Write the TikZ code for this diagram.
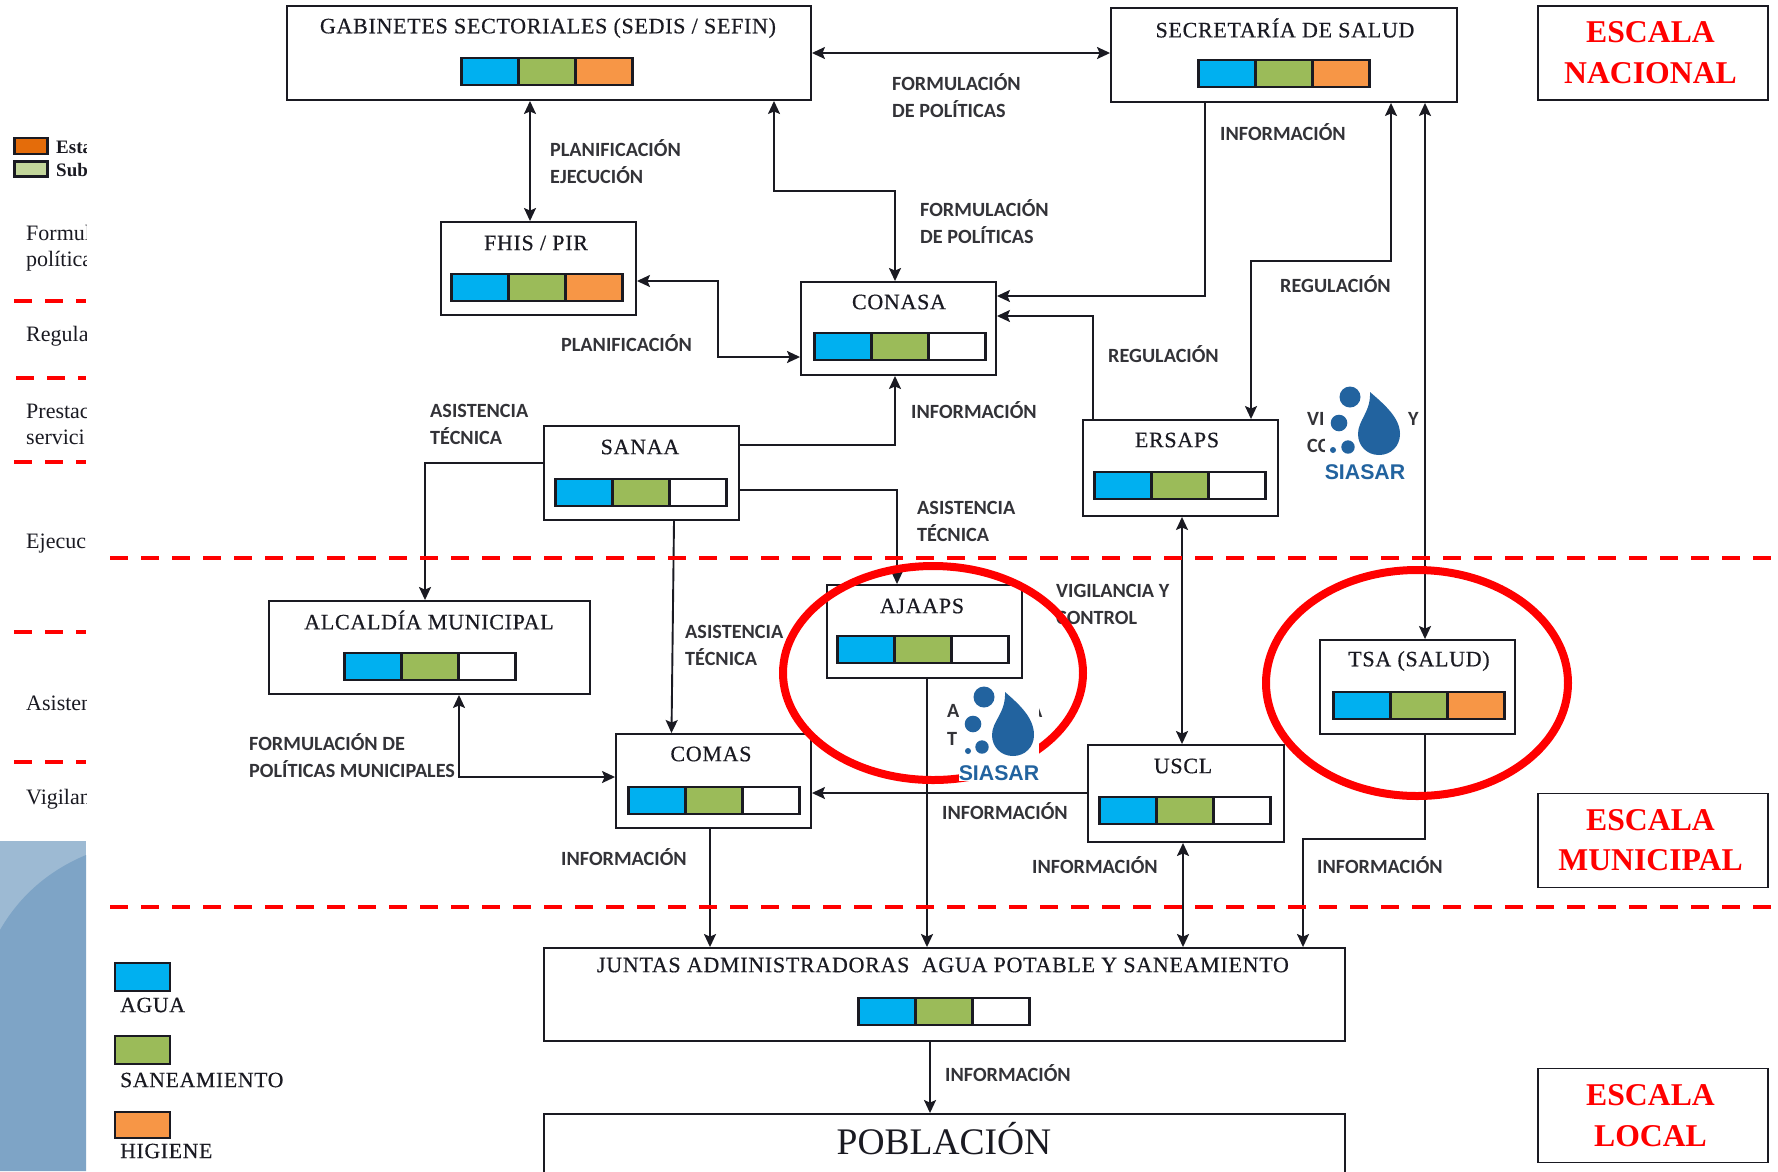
\documentclass[tikz,border=0pt]{standalone}
\usepackage{fontspec}
\setmainfont{Liberation Serif}
\newfontfamily\titulofont[LetterSpace=3.2,FakeBold=0.5]{Liberation Serif}
\newfontfamily\etiquetafont{Carlito}
\newfontfamily\siasarfont{Liberation Sans}
\usetikzlibrary{positioning,arrows.meta}
\definecolor{tinta}{HTML}{1A1A22}
\definecolor{gris}{HTML}{333338}
\definecolor{cagua}{HTML}{00B0F0}
\definecolor{csanea}{HTML}{9BBB59}
\definecolor{chigiene}{HTML}{F79646}
\definecolor{cesta}{HTML}{E46C0A}
\definecolor{csub}{HTML}{C3D69B}
\definecolor{rojo}{HTML}{FF0000}
\definecolor{csiasar}{HTML}{22639F}
\tikzset{
  caja/.style={draw=tinta,line width=1.9pt,fill=white,inner sep=0pt},
  cajan/.style={caja,minimum width=195pt,minimum height=93pt},
  titulo/.style={inner sep=0pt,text=tinta,font=\titulofont\fontsize{22}{26}\selectfont},
  seg/.style={draw=tinta,line width=2.2pt,minimum width=57pt,minimum height=27pt,inner sep=0pt,outer sep=0pt},
  agua/.style={seg,fill=cagua},
  sanea/.style={seg,fill=csanea},
  higiene/.style={seg,fill=chigiene},
  vacio/.style={seg,fill=white},
  etiqueta/.style={anchor=west,align=left,inner sep=0pt,yshift=1pt,text=gris,font=\etiquetafont\fontsize{20.2}{27}\selectfont\bfseries},
  escala/.style={caja,minimum width=230pt,minimum height=94pt,align=center,text=rojo,font=\fontsize{31.7}{40}\selectfont\bfseries},
  lado/.style={anchor=west,inner sep=0pt,text=tinta,font=\fontsize{22}{26}\selectfont},
  leyenda/.style={draw=tinta,line width=2pt,minimum width=55pt,inner sep=0pt},
  flecha/.style={draw=tinta,line width=1.9pt,>={Stealth[length=13pt,width=12pt,inset=2.5pt]}},
  corte/.style={line width=4.5pt,rojo,dash pattern=on 18pt off 13pt},
  circulo/.style={draw=rojo,line width=8pt},
  siasar/.style={fill=csiasar}
}
\begin{document}
\begin{tikzpicture}[x=1pt,y=-1pt]
\useasboundingbox (0,0) rectangle (1778,1171);
\fill[white] (0,0) rectangle (1778,1171);

% panel on the left
\fill[color={rgb,255:red,157;green,186;blue,211}] (0,841) rectangle (86,1171);
\fill[color={rgb,255:red,126;green,164;blue,198}] (86,855) .. controls (50,870) and (20,895) .. (0,930) -- (0,1171) -- (86,1171) -- cycle;
\begin{scope}
\clip (0,0) rectangle (86,841);
    \node[draw=tinta,line width=2.5pt,fill=cesta,minimum width=33pt,minimum height=16pt,inner sep=0pt] (swEsta) at (31,146) {};
    \node[draw=tinta,line width=2.5pt,fill=csub,minimum width=33pt,minimum height=15pt,inner sep=0pt] (swSub) at (31,169) {};
    \node[lado,font=\fontsize{19}{22}\selectfont\bfseries] (lEsta) at (56,147) {Esta};
    \node[lado,font=\fontsize{19}{22}\selectfont\bfseries] (lSub) at (56,170) {Sub};
    \node[lado] (lForm) at (26,233) {Formul};
    \node[lado] (lPoli) at (26,261) {política};
    \node[lado] (lRegu) at (26,336) {Regula};
    \node[lado] (lPres) at (26,411) {Prestac};
    \node[lado] (lServ) at (26,437) {servici};
    \node[lado] (lEjec) at (26,544) {Ejecuc};
    \node[lado] (lAsis) at (26,703) {Asisten};
    \node[lado] (lVigi) at (26,799) {Vigilan};
    \draw[corte] (14,301) -- (86,301);
    \draw[corte] (16,378) -- (86,378);
    \draw[corte] (14,462) -- (86,462);
    \draw[corte] (14,632) -- (86,632);
    \draw[corte] (14,762) -- (86,762);
\end{scope}

% bottom left legend
\node[leyenda,fill=cagua,minimum height=28pt] (swAgua) at (142,977) {};
\node[lado,font=\titulofont\fontsize{21.7}{26}\selectfont] (lAgua) at (120,1005) {AGUA};
\node[leyenda,fill=csanea,minimum height=28pt] (swSanea) at (142,1050) {};
\node[lado,font=\titulofont\fontsize{21.7}{26}\selectfont] (lSanea) at (120,1080) {SANEAMIENTO};
\node[leyenda,fill=chigiene,minimum height=26pt] (swHig) at (142,1125) {};
\node[lado,font=\titulofont\fontsize{21.7}{26}\selectfont] (lHig) at (120,1151) {HIGIENE};

% boxes
\node[caja,minimum width=524pt,minimum height=94pt] (gab) at (549,53) {};
\node[caja,minimum width=346pt,minimum height=94pt] (sec) at (1284,55) {};
\node[cajan] (fhis) at (538.5,268.5) {};
\node[cajan] (conasa) at (898.5,328.5) {};
\node[cajan,minimum height=94pt] (sanaa) at (641.5,473) {};
\node[cajan,minimum height=96pt] (ersaps) at (1180.5,468) {};
\node[caja,minimum width=321pt,minimum height=93pt] (alcaldia) at (429.5,647.5) {};
\node[cajan] (ajaaps) at (924.5,631.5) {};
\node[cajan,minimum height=94pt] (tsa) at (1417.5,687) {};
\node[cajan,minimum height=94pt] (comas) at (713.5,781) {};
\node[cajan,minimum width=196pt,minimum height=97pt] (uscl) at (1186,793.5) {};
\node[caja,minimum width=801pt,minimum height=93pt] (juntas) at (944.5,994.5) {};
\node[caja,minimum width=801pt,minimum height=66pt] (poblacion) at (944.5,1147) {};
\node[inner sep=0pt,text=tinta,font=\fontsize{37.5}{40}\selectfont] (pobT) at (944,1139) {POBLACIÓN};

\node[escala] (nacional) at (1653,53) {\raisebox{2pt}{\hspace*{-5pt}ESCALA}\\\raisebox{1pt}{\hspace*{-5pt}NACIONAL}};
\node[escala] (municipal) at (1653,840.5) {\hspace*{-5pt}ESCALA\\\hspace*{-5pt}MUNICIPAL};
\node[escala] (local) at (1653,1115.5) {\raisebox{2pt}{\hspace*{-5pt}ESCALA}\\\raisebox{1pt}{\hspace*{-5pt}LOCAL}};

% titles
\node[titulo] (gabT) at (548,28) {GABINETES SECTORIALES (SEDIS / SEFIN)};
\node[titulo] (secT) at (1285,28) {SECRETARÍA DE SALUD};
\node[titulo] (fhisT) at (536,243) {FHIS / PIR};
\node[titulo] (conasaT) at (899,302) {CONASA};
\node[titulo] (sanaaT) at (640,447) {SANAA};
\node[titulo] (ersapsT) at (1177,440) {ERSAPS};
\node[titulo] (alcaldiaT) at (429,620) {ALCALDÍA MUNICIPAL};
\node[titulo] (ajaapsT) at (922,606) {AJAAPS};
\node[titulo] (tsaT) at (1419,661) {TSA (SALUD)};
\node[titulo] (comasT) at (711,754) {COMAS};
\node[titulo] (usclT) at (1183,766) {USCL};
\node[titulo] (juntasT) at (943,965) {JUNTAS ADMINISTRADORAS\ \ AGUA POTABLE Y SANEAMIENTO};

% colour bars
\node[agua] (gabA) at (490,71.5) {};
\node[sanea,right=0pt of gabA] (gabS) {};
\node[higiene,right=0pt of gabS] (gabH) {};

\node[agua] (secA) at (1227,73.5) {};
\node[sanea,right=0pt of secA] (secS) {};
\node[higiene,right=0pt of secS] (secH) {};

\node[agua] (fhisA) at (480,287.5) {};
\node[sanea,right=0pt of fhisA] (fhisS) {};
\node[higiene,right=0pt of fhisS] (fhisH) {};

\node[agua] (conasaA) at (843,346.5) {};
\node[sanea,right=0pt of conasaA] (conasaS) {};
\node[vacio,right=0pt of conasaS] (conasaV) {};

\node[agua] (sanaaA) at (584,492.5) {};
\node[sanea,right=0pt of sanaaA] (sanaaS) {};
\node[vacio,right=0pt of sanaaS] (sanaaV) {};

\node[agua] (ersapsA) at (1123,485.5) {};
\node[sanea,right=0pt of ersapsA] (ersapsS) {};
\node[vacio,right=0pt of ersapsS] (ersapsV) {};

\node[agua] (alcaldiaA) at (373,666.5) {};
\node[sanea,right=0pt of alcaldiaA] (alcaldiaS) {};
\node[vacio,right=0pt of alcaldiaS] (alcaldiaV) {};

\node[agua] (ajaapsA) at (866,649.5) {};
\node[sanea,right=0pt of ajaapsA] (ajaapsS) {};
\node[vacio,right=0pt of ajaapsS] (ajaapsV) {};

\node[agua] (tsaA) at (1362,705.5) {};
\node[sanea,right=0pt of tsaA] (tsaS) {};
\node[higiene,right=0pt of tsaS] (tsaH) {};

\node[agua] (comasA) at (657,800.5) {};
\node[sanea,right=0pt of comasA] (comasS) {};
\node[vacio,right=0pt of comasS] (comasV) {};

\node[agua] (usclA) at (1128,810.5) {};
\node[sanea,right=0pt of usclA] (usclS) {};
\node[vacio,right=0pt of usclS] (usclV) {};

\node[agua] (juntasA) at (887,1011.5) {};
\node[sanea,right=0pt of juntasA] (juntasS) {};
\node[vacio,right=0pt of juntasS] (juntasV) {};

% connectors
\draw[flecha,<->] (gab.east |- 0,53) -- (sec.west |- 0,53);
\draw[flecha,<->] (530,0 |- gab.south) -- (530,0 |- fhis.north);
\draw[flecha,<->] (774,0 |- gab.south) -- (774,191) -- (895,191) -- (895,0 |- conasa.north);
\draw[flecha,<->] (fhis.east |- 0,281) -- (718,281) -- (718,357) -- (conasa.west |- 0,357);
\draw[flecha,->] (1205,0 |- sec.south) -- (1205,296) -- (conasa.east |- 0,296);
\draw[flecha,->] (1093,0 |- ersaps.north) -- (1093,316) -- (conasa.east |- 0,316);
\draw[flecha,<->] (1391,0 |- sec.south) -- (1391,261) -- (1251,261) -- (1251,0 |- ersaps.north);
\draw[flecha,<->] (1425,0 |- sec.south) -- (1425,0 |- tsa.north);
\draw[flecha,->] (sanaa.east |- 0,445) -- (895,445) -- (895,0 |- conasa.south);
\draw[flecha,->] (sanaa.east |- 0,490) -- (897,490) -- (897,0 |- ajaaps.north);
\draw[flecha,->] (sanaa.west |- 0,463) -- (425,463) -- (425,0 |- alcaldia.north);
\draw[flecha,->] (674,0 |- sanaa.south) -- (671.5,0 |- comas.north);
\draw[flecha,<->] (459,0 |- alcaldia.south) -- (459,777) -- (comas.west |- 0,777);
\draw[flecha,<->] (1182,0 |- ersaps.south) -- (1182,0 |- uscl.north);
\draw[flecha,->] (uscl.west |- 0,793) -- (comas.east |- 0,793);
\draw[flecha,->] (927,0 |- ajaaps.south) -- (927,0 |- juntas.north);
\draw[flecha,->] (710,0 |- comas.south) -- (710,0 |- juntas.north);
\draw[flecha,<->] (1183,0 |- uscl.south) -- (1183,0 |- juntas.north);
\draw[flecha,->] (1425,0 |- tsa.south) -- (1425,839) -- (1303,839) -- (1303,0 |- juntas.north);
\draw[flecha,->] (930,0 |- juntas.south) -- (930,0 |- poblacion.north);

% labels
\node[etiqueta] (tForm1) at (892,97) {FORMULACIÓN\\DE POLÍTICAS};
\node[etiqueta] (tInfo1) at (1220,133) {INFORMACIÓN};
\node[etiqueta] (tPlan1) at (550,163) {PLANIFICACIÓN\\EJECUCIÓN};
\node[etiqueta] (tForm2) at (920,223) {FORMULACIÓN\\DE POLÍTICAS};
\node[etiqueta] (tRegu1) at (1280,285) {REGULACIÓN};
\node[etiqueta] (tPlan2) at (561,344) {PLANIFICACIÓN};
\node[etiqueta] (tRegu2) at (1108,355) {REGULACIÓN};
\node[etiqueta] (tAsis1) at (430,425) {ASISTENCIA\\TÉCNICA};
\node[etiqueta] (tInfo2) at (911,411) {INFORMACIÓN};
\node[etiqueta] (tAsis2) at (917,522) {ASISTENCIA\\TÉCNICA};
\node[etiqueta] (tVigi1) at (1056,605) {VIGILANCIA Y\\CONTROL};
\node[etiqueta] (tAsis3) at (685,646) {ASISTENCIA\\TÉCNICA};
\node[etiqueta] (tForm3) at (249,757) {FORMULACIÓN DE\\POLÍTICAS MUNICIPALES};
\node[etiqueta] (tInfo3) at (942,812) {INFORMACIÓN};
\node[etiqueta] (tInfo4) at (1032,866) {INFORMACIÓN};
\node[etiqueta] (tInfo5) at (1317,866) {INFORMACIÓN};
\node[etiqueta] (tInfo6) at (561,858) {INFORMACIÓN};
\node[etiqueta] (tInfo7) at (945,1074) {INFORMACIÓN};
\node[etiqueta] (tVi) at (1307,420) {VI};
\node[etiqueta] (tY) at (1408,420) {Y};
\node[etiqueta] (tCo) at (1307,447) {CC};
\node[etiqueta] (tA) at (947,712) {A};
\node[etiqueta] (tT) at (947,740) {T};
\node[etiqueta] (tAb) at (1030,712) {A};

% dashed scale lines
\draw[corte] (110,558) -- (1778,558);
\draw[corte] (110,907) -- (1778,907);

% red circles
\draw[circulo] (933,673) ellipse (150pt and 107pt);
\draw[circulo] (1417,683) ellipse (151pt and 113pt);

% logo over the vigilancia label
\fill[white] (1325,385) rectangle (1405,482);
\fill[siasar] (1350,397) circle (10.5pt);
\fill[siasar] (1339,423) circle (8.3pt);
\fill[siasar] (1348,447) circle (6.7pt);
\fill[siasar] (1333,450) circle (3pt);
\fill[siasar] (1370,392) .. controls (1385,405) and (1400,418) .. (1400,434) .. controls (1400,446) and (1391,455) .. (1379,455) .. controls (1367,455) and (1358,446) .. (1358,434) .. controls (1358,420) and (1371,412) .. (1370,392) -- cycle;
\node[inner sep=0pt,text=csiasar,font=\siasarfont\fontsize{21.3}{24}\selectfont\bfseries] (siasarA) at (1365,472) {SIASAR};

% logo over the asistencia label
\fill[white] (959,687) rectangle (1039,781);
\fill[siasar] (984,697) circle (10.5pt);
\fill[siasar] (973,724) circle (8.3pt);
\fill[siasar] (982,747) circle (6.7pt);
\fill[siasar] (968,751) circle (3pt);
\fill[siasar] (1005,692) .. controls (1020,705) and (1034,718) .. (1034,735) .. controls (1034,747) and (1025,756) .. (1013,756) .. controls (1001,756) and (992,747) .. (992,735) .. controls (992,721) and (1006,713) .. (1005,692) -- cycle;
\node[inner sep=0pt,text=csiasar,font=\siasarfont\fontsize{21.3}{24}\selectfont\bfseries] (siasarB) at (999,773) {SIASAR};
\end{tikzpicture}
\end{document}
